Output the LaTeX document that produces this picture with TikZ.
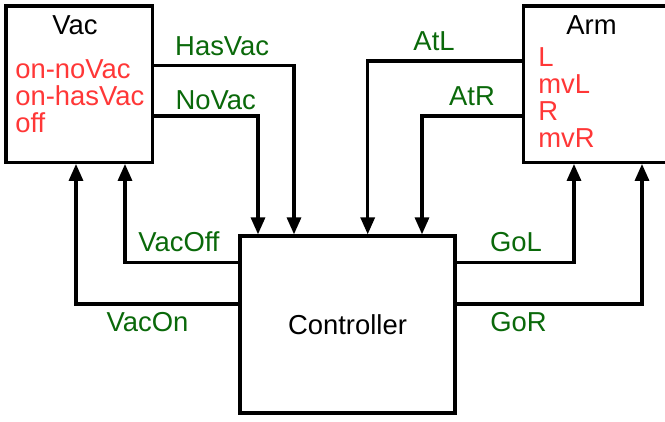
\documentclass[tikz,border=0pt]{standalone}
\usepackage{fontspec}
\setmainfont{Liberation Sans}
\usepackage{xcolor}
\usetikzlibrary{arrows.meta, positioning}
\definecolor{sigreen}{RGB}{10, 105, 10}
\definecolor{statered}{RGB}{255, 55, 55}

\begin{document}
\begin{tikzpicture}[
  every node/.style={font=\fontsize{15.6}{15.4}\selectfont},
  unit/.style={
    draw=black, line width=0.065cm,
    minimum width=2.934cm, minimum height=3.126cm,
    inner sep=0pt
  },
  ctrlbox/.style={
    draw=black, line width=0.065cm,
    minimum width=4.3cm, minimum height=3.54cm,
    inner sep=0pt
  },
  title/.style={anchor=base, inner sep=0pt},
  states/.style={text=statered, align=left, anchor=base west, inner sep=0pt},
  wire/.style={-{Triangle[length=0.34cm, width=0.28cm]}, line width=0.065cm},
  sig/.style={text=sigreen, inner sep=0pt}
]
  \useasboundingbox (0,0) rectangle (13.3,8.44);

  % Components
  \node[unit] (vac) at (1.587, 6.757) {};
  \node[unit] (arm) at (11.94, 6.757) {};
  \node[ctrlbox] (ctrl) at (6.95, 1.95) {Controller};

  % Names and states (anchored on the last line)
  \node[title] (vactitle) at (1.5, 7.74) {Vac};
  \node[states] (vacstates) at (0.30, 5.78) {on-noVac\\on-hasVac\\off};
  \node[title] (armtitle) at (11.83, 7.74) {Arm};
  \node[states] (armstates) at (10.76, 5.48) {L\\mvL\\R\\mvR};

  % Sensor signals into the controller
  \draw[wire] ([yshift=0.369cm]vac.east) -| ([xshift=-1.07cm]ctrl.north) node[sig, pos=0.243, above=0.17cm] {HasVac};
  \draw[wire] ([yshift=-0.637cm]vac.east) -| ([xshift=-1.79cm]ctrl.north) node[sig, pos=0.296, above=0.1cm] {NoVac};
  \draw[wire] ([yshift=0.463cm]arm.west) -| ([xshift=0.404cm]ctrl.north) node[sig, pos=0.285, above=0.18cm] {AtL};
  \draw[wire] ([yshift=-0.637cm]arm.west) -| ([xshift=1.49cm]ctrl.north) node[sig, pos=0.25, above=0.18cm] {AtR};

  % Commands out of the controller
  \draw[wire] ([yshift=1.236cm]ctrl.west) -| ([xshift=0.913cm]vac.south) node[sig, pos=0.262, above=0.19cm] {VacOff};
  \draw[wire] ([yshift=0.41cm]ctrl.west) -| ([xshift=-0.067cm]vac.south) node[sig, pos=0.28, below=0.14cm] {VacOn};
  \draw[wire] ([yshift=1.236cm]ctrl.east) -| ([xshift=-0.46cm]arm.south) node[sig, pos=0.253, above=0.19cm] {GoL};
  \draw[wire] ([yshift=0.41cm]ctrl.east) -| ([xshift=0.9cm]arm.south) node[sig, pos=0.167, below=0.14cm] {GoR};

\end{tikzpicture}
\end{document}
